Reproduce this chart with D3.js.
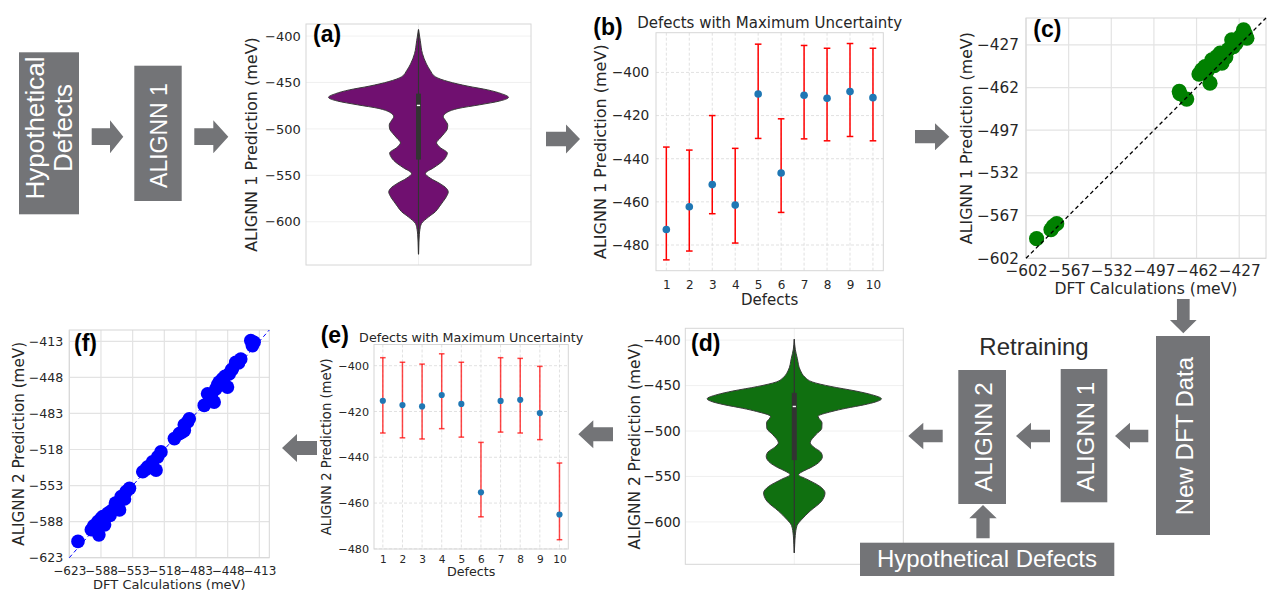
<!DOCTYPE html>
<html>
<head>
<meta charset="utf-8">
<title>Active learning loop for defect formation energies</title>
<script src="https://cdn.jsdelivr.net/npm/d3@7"></script>
<style>
  html, body { margin: 0; padding: 0; background: #ffffff; }
  svg { display: block; }
</style>
</head>
<body>
<svg id="figure" width="1268" height="593"></svg>
<script>
// ---------------- data ----------------
// Violin profiles: energy level (meV) and relative kernel density at that level
const violinTicks = [-400, -450, -500, -550, -600];
const violinRange = [-646.6, -387];

const alignn1Levels = [-393, -405, -419, -430, -437, -444, -449, -454, -458, -462, -466, -470, -474, -478,
  -482, -487, -491, -496, -500, -505, -510, -515, -520, -526, -531, -537, -542, -548, -553, -559, -564,
  -568, -573, -578, -584, -589, -595, -602, -608, -614, -622, -635];
const alignn1Density = [0, 0.02, 0.044, 0.088, 0.13, 0.19, 0.33, 0.55, 0.77, 0.92, 1.0, 0.9, 0.68, 0.44,
  0.32, 0.275, 0.3, 0.325, 0.32, 0.285, 0.24, 0.2, 0.24, 0.32, 0.3, 0.24, 0.165, 0.077, 0.13, 0.24, 0.31,
  0.33, 0.31, 0.275, 0.23, 0.19, 0.11, 0.033, 0.016, 0.009, 0.004, 0];
const alignn1Box = [-393, -533, -474.7, -462, -635];   // min, q1, median, q3, max

const alignn2Levels = [-399, -410, -420, -433, -441, -446, -451, -456, -460, -464.6, -468, -471, -475,
  -478.5, -484, -491, -497, -504, -513, -518, -523, -528, -535, -540, -544, -548, -553, -561, -568, -577,
  -588, -597, -604, -615, -625, -634];
const alignn2Density = [0, 0.011, 0.034, 0.068, 0.125, 0.205, 0.42, 0.705, 0.886, 1.0, 0.932, 0.807, 0.591,
  0.432, 0.273, 0.318, 0.315, 0.247, 0.182, 0.227, 0.301, 0.322, 0.276, 0.193, 0.106, 0.049, 0.144, 0.295,
  0.352, 0.315, 0.182, 0.0875, 0.031, 0.011, 0.0045, 0];
const alignn2Box = [-399, -532, -473, -458, -634];

// Ten defects with the largest ensemble uncertainty (prediction and error-bar ends, meV)
const defectIds = [1, 2, 3, 4, 5, 6, 7, 8, 9, 10];
const round1Pred  = [-472.8, -462.3, -452.0, -461.5, -410.0, -446.6, -410.6, -412.0, -408.9, -411.7];
const round1Upper = [-434.6, -436.0, -420.0, -435.2, -386.9, -421.5, -387.5, -388.8, -386.6, -388.8];
const round1Lower = [-486.9, -482.8, -465.5, -479.1, -430.6, -464.9, -430.8, -431.7, -429.7, -431.7];
const round2Pred  = [-415.3, -417.2, -417.8, -412.8, -416.7, -455.3, -415.4, -414.9, -420.7, -465.0];
const round2Upper = [-396.5, -398.5, -399.3, -394.8, -398.5, -433.5, -396.5, -396.8, -400.3, -442.5];
const round2Lower = [-429.4, -431.5, -432.0, -427.5, -431.2, -466.0, -429.0, -429.4, -432.3, -476.0];
const uncertaintyTicks = [-400, -420, -440, -460, -480];

// Parity data: DFT value vs model prediction (meV)
const parity1Dft  = [-593.3, -581.5, -579.7, -576.8, -476.2, -475.6, -470.1, -457.7, -455.0, -453.5, -451.0,
  -449.4, -445.3, -442.6, -441.2, -438.0, -433.1, -431.7, -423.4, -420.7, -422.0, -460.0, -447.5, -436.0,
  -429.5, -426.0];
const parity1Pred = [-585.9, -578.5, -575.8, -573.6, -465.2, -467.1, -471.5, -447.5, -444.8, -448.8, -458.4,
  -439.3, -436.6, -433.8, -442.0, -437.0, -422.9, -428.4, -414.7, -421.5, -418.0, -451.0, -444.0, -431.0,
  -425.5, -420.0];
const parity1Ticks = [-602, -567, -532, -497, -462, -427];
const parity1Range = [-602, -405];

const parity2Dft  = [-613.4, -598.7, -596, -590.3, -591.4, -588, -584, -580.4, -577, -574.9, -570, -567.5,
  -565.7, -562, -560.2, -556.5, -541.8, -538, -536.3, -527.1, -525.3, -521.7, -506.9, -501.4, -498, -495.9,
  -492.3, -490.4, -473.9, -470.2, -468, -462.9, -461.1, -457.4, -455, -453.7, -448.2, -446.4, -442.7, -439.1,
  -436, -433.5, -422.5, -420.7, -418.8, -586, -578, -572, -564, -531, -459, -451, -444, -466, -496];
const parity2Pred = [-607.2, -595.9, -592, -600.8, -587.9, -585, -591.1, -579.8, -578, -576.6, -572, -576.6,
  -563.7, -566, -558.9, -555.7, -539.6, -537, -534.8, -538, -525.1, -520.3, -507.4, -502.6, -501, -499.4,
  -491.3, -488.1, -475.2, -463.9, -470, -472, -459.1, -452.6, -455, -449.4, -457.4, -444.6, -439.7, -433.3,
  -434, -430.1, -412.3, -417.2, -413.9, -583, -582, -570, -566, -530, -455, -447, -441, -466, -494];
const parity2Ticks = [-623, -588, -553, -518, -483, -448, -413];
const parity2Range = [-623, -402];

// ---------------- drawing ----------------
const svg = d3.select("#figure");
const INK = "#262626";
const SANS = "'DejaVu Sans', sans-serif";
const ARIAL = "'Liberation Sans', Arial, sans-serif";
const BOX_GREY = "#737477";
const FRAME = "#d6d6d6";

const fmt = d => String(d).replace("-", "\u2212");

function styleAxis(sel, size) {
  sel.select(".domain").remove();
  sel.attr("font-family", SANS);
  sel.selectAll("text").attr("font-size", size).attr("fill", INK);
}

function frameRect(g, w, h) {
  g.append("rect").attr("x", 0).attr("y", 0).attr("width", w).attr("height", h)
    .attr("fill", "none").attr("stroke", FRAME).attr("stroke-width", 1);
}

function rotatedLabel(parent, text, x, cy, size, family, fill) {
  parent.append("text")
    .attr("transform", `translate(${x},${cy}) rotate(-90)`)
    .attr("text-anchor", "middle")
    .attr("font-family", family || SANS)
    .attr("font-size", size)
    .attr("fill", fill || INK)
    .text(text);
}

function plainText(parent, text, x, y, size, opts = {}) {
  return parent.append("text")
    .attr("x", x).attr("y", y)
    .attr("text-anchor", opts.anchor || "middle")
    .attr("font-family", opts.family || SANS)
    .attr("font-weight", opts.weight || "normal")
    .attr("font-size", size)
    .attr("fill", opts.fill || INK)
    .text(text);
}

function panelLetter(text, x, y) {
  plainText(svg, text, x, y, 23, { anchor: "start", family: ARIAL, weight: "bold", fill: "#000" });
}

// Violin of predicted energies with an inner box plot
function violinPanel(box, levels, density, stats, fill, opt) {
  const g = svg.append("g").attr("transform", `translate(${box.x},${box.y})`);
  const y = d3.scaleLinear().domain(violinRange).range([box.h, 0]);
  const x = d3.scaleBand().domain(["all"]).range([0, box.w]);
  const cx = x("all") + x.bandwidth() / 2;
  const half = d3.scaleLinear().domain([0, 1]).range([0, x.bandwidth() * 0.4]);

  g.selectAll("line.hgrid").data(violinTicks).join("line").attr("class", "hgrid")
    .attr("x1", 0).attr("x2", box.w).attr("y1", d => y(d)).attr("y2", d => y(d))
    .attr("stroke", "#ececec").attr("stroke-width", 0.8);
  g.append("line").attr("x1", cx).attr("x2", cx).attr("y1", 0).attr("y2", box.h)
    .attr("stroke", "#ececec").attr("stroke-width", 0.8);
  frameRect(g, box.w, box.h);

  const profile = levels.map((v, i) => ({ v, d: density[i] }));
  const area = d3.area()
    .y(p => y(p.v))
    .x0(p => cx - half(p.d))
    .x1(p => cx + half(p.d))
    .curve(d3.curveMonotoneY);
  g.append("path").datum(profile).attr("d", area)
    .attr("fill", fill).attr("stroke", "#3a3a3a").attr("stroke-width", 1);

  const [mn, q1, med, q3, mx] = stats;
  g.append("line").attr("x1", cx).attr("x2", cx).attr("y1", y(mx)).attr("y2", y(mn))
    .attr("stroke", "#333333").attr("stroke-width", 1.2);
  g.append("rect").attr("x", cx - 2.5).attr("width", 5)
    .attr("y", y(q3)).attr("height", y(q1) - y(q3)).attr("fill", "#333333");
  g.append("line").attr("x1", cx - 1.6).attr("x2", cx + 1.6).attr("y1", y(med)).attr("y2", y(med))
    .attr("stroke", "#ffffff").attr("stroke-width", 1.4);

  g.append("g")
    .call(d3.axisLeft(y).tickValues(violinTicks).tickFormat(fmt).tickSize(0).tickPadding(opt.pad))
    .call(styleAxis, opt.tick);
  rotatedLabel(svg, opt.ylabel, opt.ylabelX, box.y + box.h / 2, opt.label);
}

// Predictions with asymmetric uncertainty bars for the top-10 defects
function uncertaintyPanel(box, pred, upper, lower, opt) {
  const g = svg.append("g").attr("transform", `translate(${box.x},${box.y})`);
  const x = d3.scaleLinear().domain([0.55, 10.45]).range([0, box.w]);
  const lo = d3.min(lower), hi = d3.max(upper), pad = (hi - lo) * 0.05;
  const y = d3.scaleLinear().domain([lo - pad, hi + pad]).range([box.h, 0]);

  g.selectAll("line.vgrid").data(defectIds).join("line").attr("class", "vgrid")
    .attr("x1", d => x(d)).attr("x2", d => x(d)).attr("y1", 0).attr("y2", box.h)
    .attr("stroke", "#d9d9d9").attr("stroke-width", 0.8).attr("stroke-dasharray", "3,2");
  g.selectAll("line.hgrid").data(uncertaintyTicks).join("line").attr("class", "hgrid")
    .attr("x1", 0).attr("x2", box.w).attr("y1", d => y(d)).attr("y2", d => y(d))
    .attr("stroke", "#d9d9d9").attr("stroke-width", 0.8).attr("stroke-dasharray", "3,2");
  frameRect(g, box.w, box.h);

  const rows = defectIds.map((id, i) => ({ id, p: pred[i], u: upper[i], l: lower[i] }));
  const bars = g.append("g").attr("stroke", "red").attr("stroke-width", 1.5)
    .attr("stroke-opacity", opt.barOpacity);
  bars.selectAll("line.stem").data(rows).join("line").attr("class", "stem")
    .attr("x1", d => x(d.id)).attr("x2", d => x(d.id)).attr("y1", d => y(d.u)).attr("y2", d => y(d.l));
  ["u", "l"].forEach(k => {
    bars.selectAll("line.cap" + k).data(rows).join("line").attr("class", "cap" + k)
      .attr("x1", d => x(d.id) - opt.cap).attr("x2", d => x(d.id) + opt.cap)
      .attr("y1", d => y(d[k])).attr("y2", d => y(d[k]));
  });
  g.selectAll("circle").data(rows).join("circle")
    .attr("cx", d => x(d.id)).attr("cy", d => y(d.p)).attr("r", opt.r).attr("fill", "#1f77b4");

  g.append("g")
    .call(d3.axisLeft(y).tickValues(uncertaintyTicks).tickFormat(fmt).tickSize(0).tickPadding(opt.ypad))
    .call(styleAxis, opt.ytick);
  g.append("g").attr("transform", `translate(0,${box.h})`)
    .call(d3.axisBottom(x).tickValues(defectIds).tickFormat(d3.format("d")).tickSize(0).tickPadding(opt.xpad))
    .call(styleAxis, opt.xtick);

  plainText(svg, "Defects with Maximum Uncertainty", box.x + box.w / 2, opt.titleY, opt.title);
  plainText(svg, "Defects", box.x + box.w / 2, opt.xlabelY, opt.xlabel);
  rotatedLabel(svg, opt.ylabel, opt.ylabelX, box.y + box.h / 2, opt.label);
}

// DFT vs prediction parity plot with a dashed y = x guide
function parityPanel(box, dft, pred, ticks, range, color, opt) {
  const g = svg.append("g").attr("transform", `translate(${box.x},${box.y})`);
  const x = d3.scaleLinear().domain(range).range([0, box.w]);
  const y = d3.scaleLinear().domain(range).range([box.h, 0]);

  g.selectAll("line.vgrid").data(ticks).join("line").attr("class", "vgrid")
    .attr("x1", d => x(d)).attr("x2", d => x(d)).attr("y1", 0).attr("y2", box.h)
    .attr("stroke", "#e3e3e3").attr("stroke-width", 1.2);
  g.selectAll("line.hgrid").data(ticks).join("line").attr("class", "hgrid")
    .attr("x1", 0).attr("x2", box.w).attr("y1", d => y(d)).attr("y2", d => y(d))
    .attr("stroke", "#e3e3e3").attr("stroke-width", 1.2);
  frameRect(g, box.w, box.h);

  g.selectAll("circle").data(dft.map((d, i) => [d, pred[i]])).join("circle")
    .attr("cx", d => x(d[0])).attr("cy", d => y(d[1])).attr("r", opt.r).attr("fill", color);
  g.append("line")
    .attr("x1", x(range[0])).attr("y1", y(range[0])).attr("x2", x(range[1])).attr("y2", y(range[1]))
    .attr("stroke", opt.guide).attr("stroke-width", opt.guideWidth).attr("stroke-dasharray", "4,3");

  g.append("g")
    .call(d3.axisLeft(y).tickValues(ticks).tickFormat(fmt).tickSize(0).tickPadding(opt.ypad))
    .call(styleAxis, opt.ytick);
  g.append("g").attr("transform", `translate(0,${box.h})`)
    .call(d3.axisBottom(x).tickValues(ticks).tickFormat(fmt).tickSize(0).tickPadding(opt.xpad))
    .call(styleAxis, opt.xtick);

  plainText(svg, "DFT Calculations (meV)", box.x + box.w / 2, opt.xlabelY, opt.xlabel);
  rotatedLabel(svg, opt.ylabel, opt.ylabelX, box.y + box.h / 2, opt.label);
}

// Block arrow pointing in direction dir, tip at (tx, ty)
function blockArrow(tx, ty, dir, len, headLen, headW, shaftW) {
  const hw = headW / 2, sw = shaftW / 2;
  const pts = [[0, 0], [-headLen, -hw], [-headLen, -sw], [-len, -sw], [-len, sw], [-headLen, sw], [-headLen, hw]];
  const rot = { right: 0, down: 90, left: 180, up: 270 }[dir];
  svg.append("polygon")
    .attr("points", pts.map(p => p.join(",")).join(" "))
    .attr("transform", `translate(${tx},${ty}) rotate(${rot})`)
    .attr("fill", BOX_GREY);
}

function greyBox(x, y, w, h) {
  svg.append("rect").attr("x", x).attr("y", y).attr("width", w).attr("height", h).attr("fill", BOX_GREY);
}

// ---- panels ----
violinPanel({ x: 306, y: 24, w: 225, h: 241 }, alignn1Levels, alignn1Density, alignn1Box, "#701070",
  { pad: 5.3, tick: 13, label: 16, ylabel: "ALIGNN 1 Prediction (meV)", ylabelX: 256.5 });
violinPanel({ x: 685.3, y: 328.3, w: 218, h: 236 }, alignn2Levels, alignn2Density, alignn2Box, "#107010",
  { pad: 4.6, tick: 13.6, label: 15.4, ylabel: "ALIGNN 2 Prediction (meV)", ylabelX: 639.5 });

uncertaintyPanel({ x: 656, y: 32.7, w: 227.3, h: 238 }, round1Pred, round1Upper, round1Lower,
  { r: 3.8, cap: 3.3, barOpacity: 1, ypad: 6.7, ytick: 13.7, xpad: 9.3, xtick: 12, title: 15, titleY: 28.3,
    xlabel: 15, xlabelY: 305, label: 16, ylabel: "ALIGNN 1 Prediction (meV)", ylabelX: 605.7 });
uncertaintyPanel({ x: 374, y: 344.5, w: 194.3, h: 204.5 }, round2Pred, round2Upper, round2Lower,
  { r: 3.1, cap: 2.8, barOpacity: 0.72, ypad: 5, ytick: 11.2, xpad: 7, xtick: 10.5, title: 12.7, titleY: 342,
    xlabel: 12.7, xlabelY: 576, label: 13.2, ylabel: "ALIGNN 2 Prediction (meV)", ylabelX: 331.3 });

parityPanel({ x: 1026, y: 18, w: 240, h: 240.3 }, parity1Dft, parity1Pred, parity1Ticks, parity1Range, "#008000",
  { r: 7.6, guide: "#000000", guideWidth: 1.3, ypad: 7, ytick: 15.3, xpad: 7, xtick: 15.3, xlabel: 15.6,
    xlabelY: 294, label: 15.8, ylabel: "ALIGNN 1 Prediction (meV)", ylabelX: 971.5 });
parityPanel({ x: 69.3, y: 330, w: 200, h: 227.7 }, parity2Dft, parity2Pred, parity2Ticks, parity2Range, "#0000ff",
  { r: 6.8, guide: "#0000ff", guideWidth: 1, ypad: 6, ytick: 12.6, xpad: 8.8, xtick: 12, xlabel: 13,
    xlabelY: 589, label: 15.2, ylabel: "ALIGNN 2 Prediction (meV)", ylabelX: 24.4 });

panelLetter("(a)", 313, 42);
panelLetter("(b)", 593.3, 35);
panelLetter("(c)", 1033.3, 37);
panelLetter("(d)", 691, 351);
panelLetter("(e)", 320.7, 343);
panelLetter("(f)", 74, 351);

// ---- workflow boxes and arrows ----
greyBox(19, 52.3, 60, 162);
rotatedLabel(svg, "Hypothetical", 43.5, 128, 26, ARIAL, "#ffffff");
rotatedLabel(svg, "Defects", 72, 128, 26, ARIAL, "#ffffff");
greyBox(134.3, 65.7, 47.4, 135.3);
rotatedLabel(svg, "ALIGNN 1", 166.5, 135.5, 23, ARIAL, "#ffffff");

blockArrow(123.3, 136.7, "right", 31.6, 13.3, 33, 16.7);
blockArrow(228.3, 136.7, "right", 34, 15, 33, 16.7);
blockArrow(580, 139, "right", 34, 14, 29, 14.5);
blockArrow(949.3, 136.7, "right", 34.3, 14.3, 27, 13.3);
blockArrow(1183.3, 333.3, "down", 34.3, 13.3, 26.7, 12.7);

greyBox(1156, 336, 54, 199);
rotatedLabel(svg, "New DFT Data", 1193, 436, 24, ARIAL, "#ffffff");
greyBox(1060.7, 369, 46.6, 133.3);
rotatedLabel(svg, "ALIGNN 1", 1093.5, 436.7, 24, ARIAL, "#ffffff");
greyBox(958.3, 370, 47.7, 134);
rotatedLabel(svg, "ALIGNN 2", 991.5, 437, 24, ARIAL, "#ffffff");
plainText(svg, "Retraining", 1034, 355, 24, { family: ARIAL, fill: "#2b2b2b" });

blockArrow(1115, 436, "left", 33.3, 15, 26.7, 12.7);
blockArrow(1016, 436, "left", 34, 15, 26.7, 12.7);
blockArrow(908.3, 436, "left", 34.4, 15, 26.7, 12.7);
blockArrow(983, 505, "up", 33.3, 13.3, 27.4, 13.3);
blockArrow(578.3, 434.3, "left", 34.7, 15, 28, 14);
blockArrow(282, 448, "left", 35, 15, 28, 14);

greyBox(860, 542.7, 254.3, 33.3);
plainText(svg, "Hypothetical Defects", 987, 567, 24, { family: ARIAL, fill: "#ffffff" });
</script>
</body>
</html>
